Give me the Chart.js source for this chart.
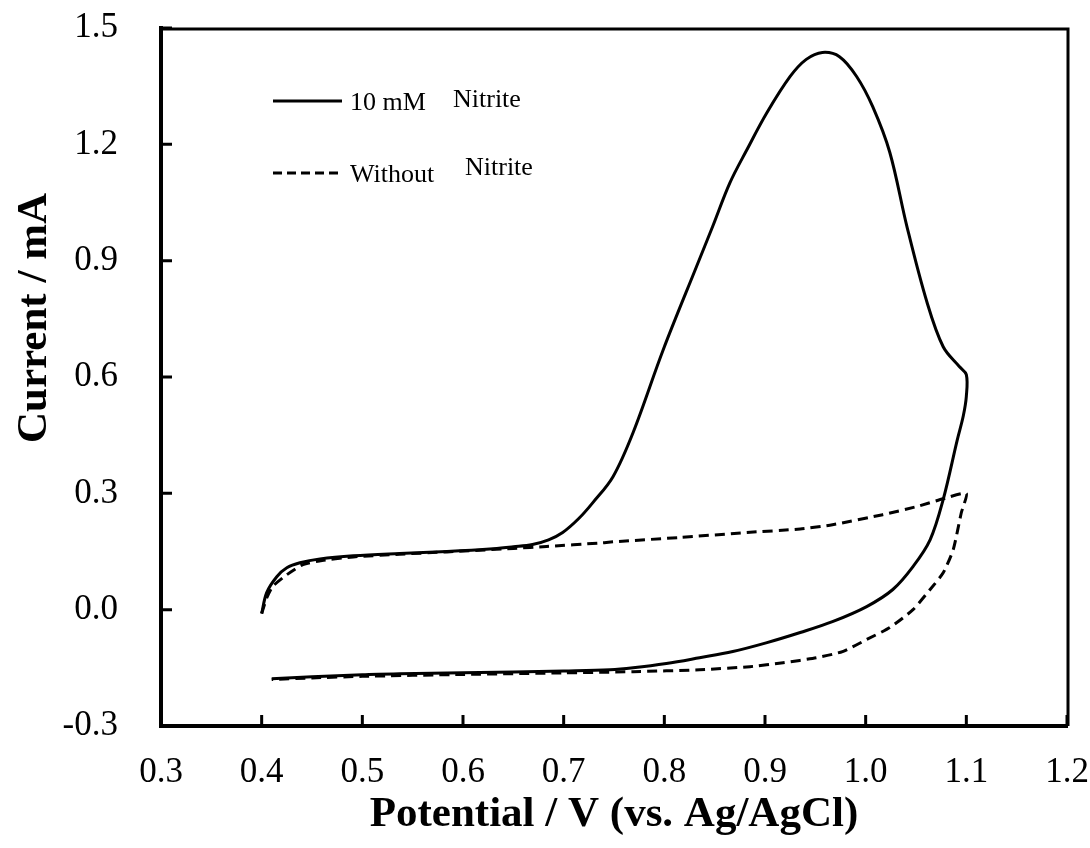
<!DOCTYPE html>
<html>
<head>
<meta charset="utf-8">
<script src="https://cdn.jsdelivr.net/npm/chart.js@4"></script>
<style>
  body { margin: 0; background: #fff; }
</style>
</head>
<body>
<canvas id="myChart" width="1090" height="848"></canvas>
<script>
// 10 mM nitrite, forward then reverse scan
const nitriteV = [
  0.400, 0.405, 0.415, 0.425, 0.438, 0.458, 0.491, 0.537, 0.584, 0.630,
  0.650, 0.669, 0.685, 0.699, 0.715, 0.729, 0.749, 0.769, 0.799, 0.832,
  0.848, 0.865, 0.882, 0.902, 0.925, 0.941, 0.957, 0.974, 0.991, 1.007,
  1.024, 1.041, 1.061, 1.077, 1.093, 1.100,
  1.100, 1.097, 1.091, 1.077, 1.064, 1.047, 1.027, 1.001, 0.967, 0.935,
  0.902, 0.868, 0.835, 0.802, 0.769, 0.746, 0.700, 0.600, 0.537, 0.500,
  0.450, 0.410
];
const nitriteI = [
  -0.010, 0.044, 0.085, 0.108, 0.121, 0.131, 0.139, 0.145, 0.150, 0.157,
  0.162, 0.168, 0.180, 0.199, 0.235, 0.276, 0.343, 0.457, 0.671, 0.885,
  0.988, 1.100, 1.186, 1.282, 1.375, 1.419, 1.437, 1.426, 1.375, 1.297,
  1.179, 0.988, 0.792, 0.678, 0.627, 0.606,
  0.550, 0.500, 0.438, 0.284, 0.180, 0.111, 0.052, 0.008, -0.031, -0.059,
  -0.085, -0.108, -0.124, -0.139, -0.150, -0.155, -0.158, -0.163, -0.165, -0.168,
  -0.173, -0.178
];

// without nitrite
const blankV = [
  0.400, 0.405, 0.411, 0.425, 0.441, 0.460, 0.491, 0.537, 0.584, 0.650,
  0.683, 0.736, 0.749, 0.815, 0.882, 0.935, 0.967, 1.017, 1.051, 1.077,
  1.100,
  1.095, 1.087, 1.077, 1.064, 1.047, 1.024, 1.001, 0.977, 0.951, 0.918,
  0.885, 0.835, 0.769, 0.700, 0.600, 0.500, 0.450, 0.410
];
const blankI = [
  -0.010, 0.030, 0.060, 0.090, 0.116, 0.127, 0.136, 0.143, 0.149, 0.158,
  0.163, 0.172, 0.175, 0.186, 0.199, 0.208, 0.219, 0.245, 0.266, 0.286,
  0.300,
  0.250, 0.155, 0.095, 0.052, 0.000, -0.046, -0.077, -0.108, -0.124, -0.137,
  -0.147, -0.155, -0.160, -0.163, -0.167, -0.172, -0.176, -0.180
];

const xTicks = [0.3, 0.4, 0.5, 0.6, 0.7, 0.8, 0.9, 1.0, 1.1, 1.2];
const yTicks = [-0.3, 0.0, 0.3, 0.6, 0.9, 1.2, 1.5];

const serif = "'Liberation Serif', 'Times New Roman', serif";

function toPoints(xs, ys) {
  return xs.map((x, i) => ({ x: x, y: ys[i] }));
}

// inward tick marks, top/right frame, y title and the legend
const framePlugin = {
  id: 'frame',
  afterDraw(chart) {
    const ctx = chart.ctx;
    const a = chart.chartArea;
    const xs = chart.scales.x, ys = chart.scales.y;
    ctx.save();
    ctx.strokeStyle = '#000';
    ctx.lineWidth = 3;
    ctx.beginPath();
    ctx.moveTo(a.left, a.top + 1);
    ctx.lineTo(a.right + 1, a.top + 1);
    ctx.lineTo(a.right + 1, a.bottom);
    ctx.stroke();

    ctx.lineWidth = 3;
    ctx.beginPath();
    xTicks.forEach(v => {
      const px = xs.getPixelForValue(v);
      ctx.moveTo(px, a.bottom);
      ctx.lineTo(px, a.bottom - 11);
    });
    yTicks.forEach(v => {
      const py = ys.getPixelForValue(v);
      ctx.moveTo(a.left, py);
      ctx.lineTo(a.left + 11, py);
    });
    ctx.stroke();

    // y axis title (sits a bit above the middle in the original)
    ctx.fillStyle = '#000';
    ctx.save();
    ctx.translate(35, 318);
    ctx.rotate(-Math.PI / 2);
    ctx.font = 'bold 43px ' + serif;
    ctx.textAlign = 'center';
    ctx.textBaseline = 'middle';
    ctx.fillText('Current / mA', 0, 0);
    ctx.restore();

    // legend
    ctx.lineWidth = 3;
    ctx.beginPath();
    ctx.moveTo(273, 101);
    ctx.lineTo(342, 101);
    ctx.stroke();
    ctx.setLineDash([9, 5]);
    ctx.beginPath();
    ctx.moveTo(273, 173);
    ctx.lineTo(342, 173);
    ctx.stroke();
    ctx.setLineDash([]);

    ctx.font = '26px ' + serif;
    ctx.textBaseline = 'alphabetic';
    ctx.textAlign = 'left';
    ctx.fillText('10 mM', 350, 110);
    ctx.fillText('Nitrite', 453, 107);
    ctx.fillText('Without', 350, 182);
    ctx.fillText('Nitrite', 465, 175);
    ctx.restore();
  }
};

const data = {
  datasets: [{
    label: '10 mM Nitrite',
    data: toPoints(nitriteV, nitriteI),
    borderColor: '#000',
    borderWidth: 3,
    pointRadius: 0,
    showLine: true,
    tension: 0.35,
    fill: false,
  }, {
    label: 'Without Nitrite',
    data: toPoints(blankV, blankI),
    borderColor: '#000',
    borderWidth: 3,
    borderDash: [10, 6],
    pointRadius: 0,
    showLine: true,
    tension: 0.2,
    fill: false,
  }]
};

const config = {
  type: 'scatter',
  data,
  options: {
    responsive: false,
    animation: false,
    layout: { padding: { top: 28, right: 23, left: 0, bottom: 0 } },
    plugins: {
      legend: { display: false },
      tooltip: { enabled: false }
    },
    scales: {
      x: {
        type: 'linear',
        min: 0.3,
        max: 1.2,
        afterBuildTicks: s => { s.ticks = xTicks.map(v => ({ value: v })); },
        afterFit: s => {
          s.height = 122;
          s.paddingLeft = 0; s.paddingRight = 0;
        },
        ticks: {
          color: '#000',
          padding: 26,
          font: { family: serif, size: 35 },
          callback: v => v.toFixed(1)
        },
        grid: { display: true, drawOnChartArea: false, drawTicks: false },
        border: { display: true, color: '#000', width: 4 },
        title: {
          display: true,
          text: 'Potential / V (vs. Ag/AgCl)',
          color: '#000',
          font: { family: serif, size: 43, weight: 'bold' },
          padding: { top: 0, bottom: 7 }
        }
      },
      y: {
        type: 'linear',
        min: -0.3,
        max: 1.5,
        afterBuildTicks: s => { s.ticks = yTicks.map(v => ({ value: v })); },
        afterFit: s => {
          s.width = 161;
          s.paddingTop = 0; s.paddingBottom = 0;
        },
        ticks: {
          color: '#000',
          padding: 43,
          font: { family: serif, size: 35 },
          callback: v => v.toFixed(1)
        },
        grid: { display: true, drawOnChartArea: false, drawTicks: false },
        border: { display: true, color: '#000', width: 4 },
        title: { display: false }
      }
    }
  },
  plugins: [framePlugin]
};

var myChart = new Chart(document.getElementById('myChart'), config);
</script>
</body>
</html>
